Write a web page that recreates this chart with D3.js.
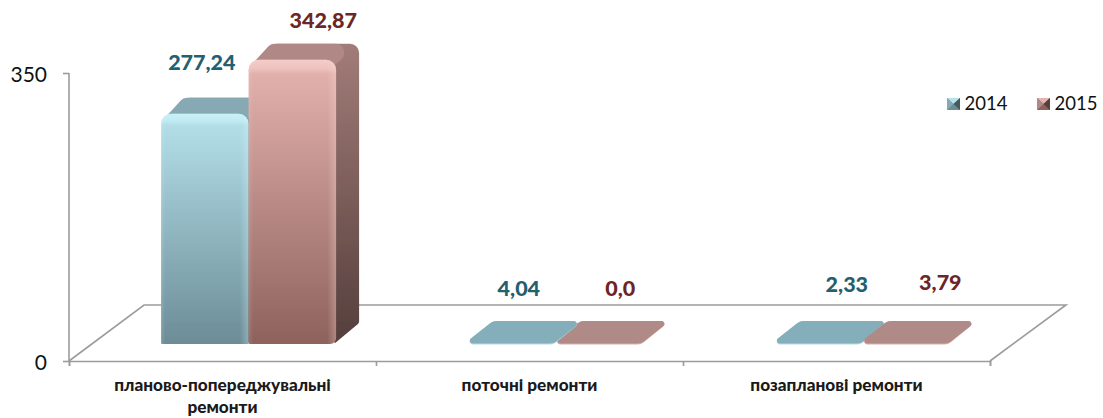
<!DOCTYPE html>
<html>
<head>
<meta charset="utf-8">
<script src="https://cdn.jsdelivr.net/npm/d3@7"></script>
<style>
html, body { margin: 0; padding: 0; background: #fff; }
svg { display: block; font-family: Lato, "Open Sans", sans-serif; }
</style>
</head>
<body>
<div id="chart"></div>
<script>
let categories = ["планово-попереджувальні ремонти", "поточні ремонти", "позапланові ремонти"];
let categoryLines = [["планово-попереджувальні", "ремонти"], ["поточні ремонти"], ["позапланові ремонти"]];
let years = ["2014", "2015"];
let values2014 = [277.24, 4.04, 2.33];
let values2015 = [342.87, 0, 3.79];
let labels2014 = ["277,24", "4,04", "2,33"];
let labels2015 = ["342,87", "0,0", "3,79"];
let yTicks = [0, 350];

let width = 1103;
let height = 418;
let plot = { left: 69, right: 990, top: 73, bottom: 361 };
let floorDepth = { x: 75, y: 56 };
// зсув передньої площини стовпчика відносно осі
let barLift = 17;
let barDepth = { x: 23, y: 21 };
// зсув підписів відносно центру стовпчика
let labelShift2014 = [[-3, -46], [7, -45], [28, -50]];
let labelShift2015 = [[31, -34], [21, -48], [34, -51]];

let palette = {
    "2014": { text: "#235f70", top: "#86a9b3", flat: "#84aeba", edge: "#b9dce4",
        front: ["#b6e2ec", "#6c8c96"], side: ["#7d9aa3", "#46585e"], glow: "#d4fbff" },
    "2015": { text: "#6c2625", top: "#b08885", flat: "#b08a87", edge: "#d8b0ac",
        front: ["#e6b4b0", "#8e625c"], side: ["#a27c78", "#543f3c"], glow: "#ffdcd8" }
};

let svg = d3.select("#chart").append("svg")
    .attr("width", width)
    .attr("height", height);
let defs = svg.append("defs");
defs.append("filter").attr("id", "soft")
    .append("feGaussianBlur").attr("stdDeviation", 0.5);

function addGradient (id, x2, y2, stops) {
    let g = defs.append("linearGradient").attr("id", id)
        .attr("x1", 0).attr("y1", 0).attr("x2", x2).attr("y2", y2);
    stops.forEach(s => {
        g.append("stop").attr("offset", s[0]).attr("stop-color", s[1]).attr("stop-opacity", s[2] === undefined ? 1 : s[2]);
    });
}
years.forEach(y => {
    let c = palette[y];
    addGradient("front" + y, 0, 1, [[0, c.front[0]], [1, c.front[1]]]);
    addGradient("side" + y, 0, 1, [[0, c.side[0]], [1, c.side[1]]]);
    addGradient("bevelTop" + y, 0, 1, [[0, c.glow, 0.6], [0.03, c.glow, 0.4], [0.05, c.glow, 0]]);
    addGradient("bevelSide" + y, 1, 0, [[0, c.glow, 0.15], [0.05, c.glow, 0], [0.9, c.glow, 0], [1, c.glow, 0.3]]);
});

let yScale = d3.scaleLinear().domain([0, 350]).range([plot.bottom, plot.top]);
let xScale = d3.scaleBand().domain(categories).range([plot.left, plot.right]);
let xBar = d3.scaleBand().domain(years).range([xScale.step() * 0.3, xScale.step() * 0.87]);
let xEdges = d3.scaleLinear().domain([0, categories.length]).range([plot.left, plot.right]);

// багатокутник із заокругленими кутами
function roundedPoly (points, radius) {
    let p = d3.path();
    let n = points.length;
    let mid = (a, b) => [(a[0] + b[0]) / 2, (a[1] + b[1]) / 2];
    let start = mid(points[n - 1], points[0]);
    p.moveTo(start[0], start[1]);
    points.forEach((pt, i) => {
        let next = points[(i + 1) % n];
        let prev = points[(i + n - 1) % n];
        let r = Array.isArray(radius) ? radius[i] : radius;
        let limit = Math.min(Math.hypot(pt[0] - prev[0], pt[1] - prev[1]), Math.hypot(pt[0] - next[0], pt[1] - next[1])) / 2;
        p.arcTo(pt[0], pt[1], next[0], next[1], Math.min(r, limit));
    });
    p.closePath();
    return p.toString();
}

// площина підлоги
let floor = svg.append("g")
    .attr("fill", "none")
    .attr("stroke", "#9c9c9c")
    .attr("stroke-width", 1.6);
floor.append("path").attr("d", d3.line()([
    [plot.left, plot.bottom],
    [plot.left + floorDepth.x, plot.bottom - floorDepth.y],
    [plot.right + floorDepth.x + 1, plot.bottom - floorDepth.y],
    [plot.right, plot.bottom]
]));

// осі
let gY = svg.append("g")
    .attr("transform", `translate(${plot.left}, 0)`)
    .call(d3.axisLeft(yScale).tickValues(yTicks).tickSize(6).tickPadding(16));
let gX = svg.append("g")
    .attr("transform", `translate(0, ${plot.bottom})`)
    .call(d3.axisBottom(xEdges).tickValues(d3.range(categories.length + 1)).tickSize(5).tickFormat(""));
[gY, gX].forEach(g => {
    g.selectAll("path, line").attr("stroke", "#9c9c9c").attr("stroke-width", 1.6);
});
gY.select(".domain").attr("d", `M0,${plot.top}V${plot.bottom}`);
gY.selectAll("text")
    .attr("font-family", "Lato, 'Open Sans', sans-serif")
    .attr("font-size", 21)
    .attr("dy", "0.42em")
    .attr("fill", "#111");

function drawBar (g, year, x, w, value) {
    let c = palette[year];
    let base = yScale(0) - barLift;
    let top = yScale(value) - barLift;
    let tall = base - top > 20;
    let d = barDepth;

    if (tall) {
        let frontTop = top - 2;
        let backTop = top - 18;
        g.append("path")
            .attr("d", roundedPoly([[x + 20, backTop], [x + w + d.x, backTop], [x + w + d.x, base - d.y], [x + w - 2, base], [x + w - 2, frontTop]], [1, 9, 4, 1, 1]))
            .attr("fill", `url(#side${year})`);
        g.append("path")
            .attr("d", roundedPoly([[x + 2, frontTop + 6], [x + 22, backTop], [x + w + d.x, backTop], [x + w - 2, frontTop + 6]], [1, 8, 9, 1]))
            .attr("fill", c.top);
        let front = roundedPoly([[x, frontTop], [x + w, frontTop], [x + w, base], [x, base]], [10, 10, year === "2015" ? 6 : 1, 1]);
        g.append("path").attr("d", front).attr("fill", `url(#front${year})`);
        g.append("path").attr("d", front).attr("fill", `url(#bevelSide${year})`);
        g.append("path").attr("d", front).attr("fill", `url(#bevelTop${year})`);
    } else {
        let back = base - d.y - 2;
        let corners = [3, 10, 3, 10];
        g.append("path")
            .attr("d", roundedPoly([[x - 4, base + 0.5], [x + d.x + 2, back], [x + w + d.x + 4, back], [x + w - 2, base + 0.5]], corners))
            .attr("fill", c.edge);
        g.append("path")
            .attr("d", roundedPoly([[x - 4, base - 0.5], [x + d.x + 2, back], [x + w + d.x + 4, back], [x + w - 2, base - 0.5]], corners))
            .attr("fill", c.flat);
    }
}

let seriesRows = categories.map((cat, i) => [
    { year: "2014", value: values2014[i], label: labels2014[i], shift: labelShift2014[i] },
    { year: "2015", value: values2015[i], label: labels2015[i], shift: labelShift2015[i] }
]);

let gBars = svg.append("g").attr("filter", "url(#soft)");
seriesRows.forEach((row, i) => {
    let cat = categories[i];
    // нижчий стовпчик малюємо першим
    row.slice().sort((a, b) => d3.ascending(a.value, b.value)).forEach(d => {
        drawBar(gBars.append("g"), d.year, xScale(cat) + xBar(d.year), xBar.bandwidth(), d.value);
    });
});

// підписи значень
seriesRows.forEach((row, i) => {
    row.forEach(d => {
        svg.append("text")
            .attr("x", xScale(categories[i]) + xBar(d.year) + xBar.bandwidth() / 2 + d.shift[0])
            .attr("y", yScale(d.value) - barLift + d.shift[1])
            .attr("text-anchor", "middle")
            .attr("font-size", 21.5)
            .attr("font-weight", 900)
            .attr("fill", palette[d.year].text)
            .text(d.label);
    });
});

// підписи категорій
categories.forEach((cat, i) => {
    categoryLines[i].forEach((line, j) => {
        svg.append("text")
            .attr("x", xScale(cat) + xScale.bandwidth() / 2)
            .attr("y", 391 + j * 22)
            .attr("text-anchor", "middle")
            .attr("font-size", 17.2)
            .attr("font-weight", 900)
            .attr("fill", "#1a1a1a")
            .text(line);
    });
});

// легенда
let legendX = d3.scalePoint().domain(years).range([947, 1037]);
years.forEach(y => {
    let c = palette[y];
    let x = legendX(y);
    let g = svg.append("g").attr("transform", `translate(${x}, 98)`).attr("filter", "url(#soft)");
    g.append("rect").attr("width", 13).attr("height", 12).attr("fill", c.front[1]);
    g.append("path").attr("d", "M0,0L6.5,6L13,0Z").attr("fill", c.front[0]);
    g.append("path").attr("d", "M0,0L6.5,6L0,12Z").attr("fill", c.top);
    g.append("path").attr("d", "M13,0L6.5,6L13,12Z").attr("fill", c.side[1]);
    svg.append("text")
        .attr("x", x + 17.5)
        .attr("y", 110)
        .attr("font-size", 18.5)
        .attr("fill", "#111")
        .text(y);
});
</script>
</body>
</html>
